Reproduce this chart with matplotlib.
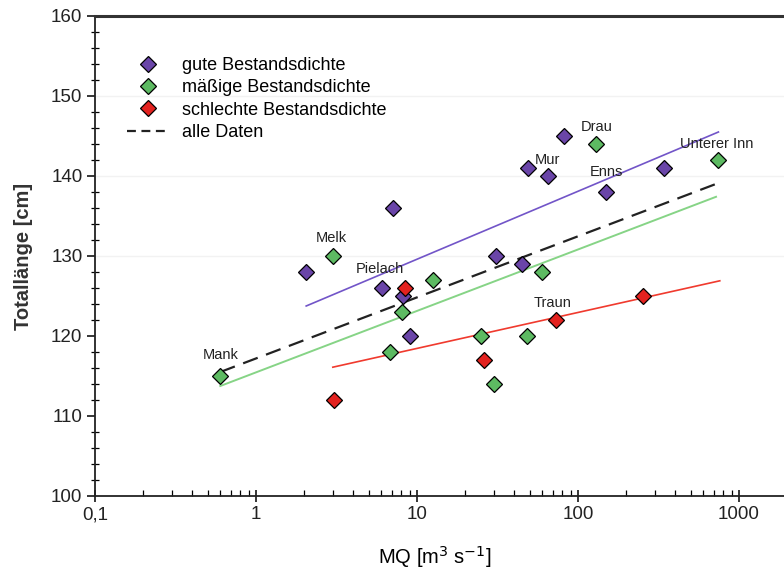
import numpy as np
import matplotlib
matplotlib.use('Agg')
import matplotlib.pyplot as plt
from matplotlib.ticker import FixedLocator, FixedFormatter, LogLocator, MultipleLocator, NullFormatter
from matplotlib.lines import Line2D

plt.rcParams['font.family'] = ['Liberation Sans', 'DejaVu Sans']

# data (MQ in m3/s, Totallaenge in cm)
gute_mq = [2.05, 6.1, 7.1, 8.2, 9.0, 31, 45, 49, 65, 82, 150, 340]
gute_tl = [128, 126, 136, 125, 120, 130, 129, 141, 140, 145, 138, 141]
maessig_mq = [0.6, 3.0, 6.8, 8.1, 12.6, 25, 30, 48, 60, 130, 740]
maessig_tl = [115, 130, 118, 123, 127, 120, 114, 120, 128, 144, 142]
schlecht_mq = [3.05, 8.4, 26, 73, 255]
schlecht_tl = [112, 126, 117, 122, 125]

# regression lines (end points)
fit_gute_mq = [2.05, 745]
fit_gute_tl = [123.75, 145.5]
fit_maessig_mq = [0.6, 720]
fit_maessig_tl = [113.75, 137.4]
fit_schlecht_mq = [3.0, 760]
fit_schlecht_tl = [116.1, 126.9]
fit_alle_mq = [0.6, 740]
fit_alle_tl = [115.5, 139.1]

rivers = ['Mank', 'Melk', 'Pielach', 'Mur', 'Drau', 'Enns', 'Unterer Inn', 'Traun']
river_pos = [(0.6, 117.6), (2.92, 132.3), (5.9, 128.4), (65, 142.0),
             (131, 146.1), (151, 140.5), (730, 144.0), (70, 124.1)]

xticks = [0.1, 1, 10, 100, 1000]
xticklabels = ['0,1', '1', '10', '100', '1000']

c_gute = '#6a45a8'
c_maessig = '#5dba62'
c_schlecht = '#e3221f'

fig = plt.figure(figsize=(7.84, 5.78), dpi=100)
ax = fig.add_axes([95/784, 82/578, 1 - 95/784, 480/578])

ax.set_xscale('log')
ax.set_xlim(0.1, 10**3.2795)
ax.set_ylim(100, 160)

for y in [130, 140, 150]:
    ax.axhline(y, color='#f2f2f2', lw=1, zorder=0)

ax.plot(fit_gute_mq, fit_gute_tl, color='#7255c8', lw=1.2, zorder=2)
ax.plot(fit_maessig_mq, fit_maessig_tl, color='#86d486', lw=1.4, zorder=2)
ax.plot(fit_schlecht_mq, fit_schlecht_tl, color='#f03a2e', lw=1.2, zorder=2)
ax.plot(fit_alle_mq, fit_alle_tl, color='#222222', lw=1.6, dashes=(7, 4), zorder=2)

mk = dict(marker='D', markersize=8, markeredgecolor='black', markeredgewidth=0.9, linestyle='none', zorder=3)
ax.plot(gute_mq, gute_tl, color=c_gute, **mk)
ax.plot(maessig_mq, maessig_tl, color=c_maessig, **mk)
ax.plot(schlecht_mq, schlecht_tl, color=c_schlecht, **mk)

for name, (px, py) in zip(rivers, river_pos):
    ax.text(px, py, name, fontsize=10.5, ha='center', va='center', color='#222222', zorder=4)

handles = [
    Line2D([], [], color=c_gute, **mk),
    Line2D([], [], color=c_maessig, **mk),
    Line2D([], [], color=c_schlecht, **mk),
    Line2D([], [], color='#222222', lw=1.6, dashes=(4, 2.5)),
]
labels = ['gute Bestandsdichte', 'mäßige Bestandsdichte', 'schlechte Bestandsdichte', 'alle Daten']
ax.legend(handles, labels, loc='upper left', bbox_to_anchor=(0.015, 0.96), frameon=False,
          fontsize=13, handlelength=2.3, handletextpad=0.75, labelspacing=0.3, borderaxespad=0.8)

ax.xaxis.set_major_locator(FixedLocator(xticks))
ax.xaxis.set_major_formatter(FixedFormatter(xticklabels))
ax.xaxis.set_minor_locator(LogLocator(base=10, subs=np.arange(2, 10), numticks=20))
ax.xaxis.set_minor_formatter(NullFormatter())
ax.yaxis.set_major_locator(MultipleLocator(10))
ax.yaxis.set_minor_locator(MultipleLocator(2))

ax.tick_params(axis='x', which='major', direction='inout', length=9, width=1.1, labelsize=13.5, pad=3,
               labelcolor='#222222')
ax.tick_params(axis='x', which='minor', direction='in', length=4, width=0.9)
ax.tick_params(axis='y', which='major', direction='out', length=6, width=1.1, labelsize=13.5, pad=3,
               labelcolor='#222222')
ax.tick_params(axis='y', which='minor', direction='inout', length=6, width=0.9)

for s in ['left', 'bottom']:
    ax.spines[s].set_linewidth(1.3)
    ax.spines[s].set_color('#222222')
ax.spines['top'].set_linewidth(2.2)
ax.spines['top'].set_color('#333333')
ax.spines['right'].set_visible(False)

ax.set_xlabel('MQ [m$^3$ s$^{-1}$]', fontsize=14.5)
ax.xaxis.set_label_coords((435 - 95) / (784 - 95), -0.1)
ax.set_ylabel('Totallänge [cm]', fontsize=14.5, fontweight='bold', color='#333333')
ax.yaxis.set_label_coords(-0.09, 0.5)

fig.savefig('out.png', dpi=100)
